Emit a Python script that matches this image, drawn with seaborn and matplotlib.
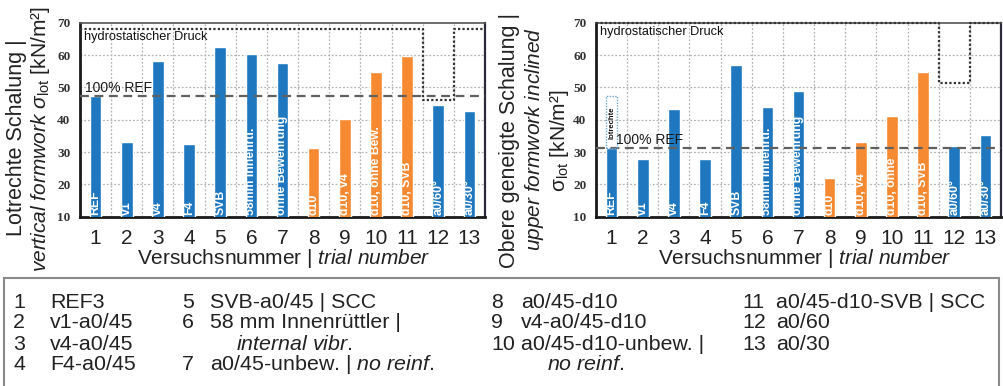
import matplotlib
matplotlib.use("Agg")
import matplotlib.pyplot as plt
import seaborn as sns
import pandas as pd
from matplotlib.patches import Rectangle
from matplotlib.ticker import MultipleLocator

# ---------------- data ----------------
trials = [str(i) for i in range(1, 14)]
groups = ["a0/45"] * 7 + ["d10"] * 4 + ["a0/45"] * 2
vertical = [47.4, 33.2, 58.1, 32.4, 62.6, 60.2, 57.4, 31.1, 40.3, 54.8, 59.7, 44.5, 42.7]
inclined = [31.3, 28.0, 43.2, 27.7, 56.9, 44.0, 49.0, 22.0, 33.1, 41.0, 54.8, 32.0, 35.2]
labels_vertical = ["REF", "v1", "v4", "F4", "SVB", "58mm Innenrtl.", "ohne Bewehrung",
                   "d10", "d10, v4", "d10, ohne Bew.", "d10, SVB", "a0/60°", "a0/30°"]
labels_inclined = ["REF", "v1", "v4", "F4", "SVB", "58mm Innenrtl.", "ohne Bewehrung",
                   "d10", "d10, v4", "d10, ohne", "d10, SVB", "a0/60°", "a0/30°"]
ref_vertical = 47.3
ref_inclined = 31.3
lotrechte_ref = 47.4          # vertical REF shown as dotted outline on inclined panel
hydro_vertical = [68.0, 46.0, 68.0]   # trials 1-11, 12, 13
hydro_inclined = [70.0, 51.3, 70.0]
y_ticks = [10, 20, 30, 40, 50, 60, 70]

legend_cols = [
    [("1", "REF3"), ("2", "v1-a0/45"), ("3", "v4-a0/45"), ("4", "F4-a0/45")],
    [("5", "SVB-a0/45 | SCC"), ("6", "58 mm Innenrüttler |"), ("", r"$\it{internal\ vibr.}$"),
     ("7", r"a0/45-unbew. | $\it{no\ reinf.}$")],
    [("8", "a0/45-d10"), ("9", "v4-a0/45-d10"), ("10", "a0/45-d10-unbew. |"), ("", r"$\it{no\ reinf.}$")],
    [("11", "a0/45-d10-SVB | SCC"), ("12", "a0/60"), ("13", "a0/30")],
]

palette = {"a0/45": "#1f78bf", "d10": "#f58a33"}

# ---------------- style ----------------
sns.set_style("white")
plt.rcParams["font.family"] = ["Liberation Sans", "DejaVu Sans"]
plt.rcParams["mathtext.fontset"] = "custom"
plt.rcParams["mathtext.rm"] = "Liberation Sans"
plt.rcParams["mathtext.it"] = "Liberation Sans:italic"
plt.rcParams["mathtext.bf"] = "Liberation Sans:bold"

W, H = 1004, 386
fig = plt.figure(figsize=(W / 100, H / 100), dpi=100)


def fx(x):
    return x / W


def fy(y):
    return 1 - y / H


def make_panel(left_px, values, labels, ref, hydro, ref_text_x):
    ax = fig.add_axes([fx(left_px), fy(216.7), 405 / W, 194 / H])
    df = pd.DataFrame({"trial": trials, "value": values, "group": groups})
    sns.barplot(data=df, x="trial", y="value", hue="group", palette=palette,
                dodge=False, width=0.375, legend=False, ax=ax, saturation=1,
                order=trials, zorder=3)
    ax.set_xlim(-0.5, 12.5)
    ax.set_ylim(10, 70)
    ax.set_yticks(y_ticks)
    ax.yaxis.set_minor_locator(MultipleLocator(2))
    ax.set_xticks([i + 0.5 for i in range(12)], minor=True)
    ax.set_xlabel("")
    ax.set_ylabel("")
    # grid
    for yv in y_ticks[1:-1]:
        ax.axhline(yv, color="#b4b4b4", lw=0.9, ls=(0, (1.5, 1.5)), zorder=1)
    for i in range(12):
        ax.axvline(i + 0.5, color="#b4b4b4", lw=0.9, ls=(0, (1.5, 1.5)), zorder=1)
    # ticks
    ax.tick_params(axis="x", which="major", length=0, labelsize=15, pad=9, labelcolor="#222222")
    ax.tick_params(axis="x", which="minor", length=4, width=1, direction="out", color="#333333")
    ax.tick_params(axis="y", which="major", length=4, width=1, direction="out", pad=3,
                   labelsize=9.5, labelcolor="#333333", color="#333333")
    ax.tick_params(axis="y", which="minor", length=2.5, width=0.8, direction="in", color="#555555")
    for lab in ax.get_yticklabels():
        lab.set_fontfamily("Liberation Serif")
        lab.set_fontweight("bold")
    # spines
    for s in ["left", "bottom"]:
        ax.spines[s].set_linewidth(2)
        ax.spines[s].set_color("#1a1a1a")
    ax.spines["top"].set_linewidth(1.2)
    ax.spines["top"].set_color("#555555")
    ax.spines["right"].set_linewidth(1.6)
    ax.spines["right"].set_color("#2a2a3a")
    # reference line
    ax.axhline(ref, color="#606060", lw=1.6, ls=(0, (4, 2.5)), zorder=4)
    ax.text(ref_text_x, ref + 0.3, "100% REF", fontsize=10, color="#1a1a1a",
            ha="left", va="bottom", zorder=6)
    # hydrostatic pressure line
    hx = [-0.5, 10.5, 10.5, 11.5, 11.5, 12.5]
    hy = [hydro[0], hydro[0], hydro[1], hydro[1], hydro[2], hydro[2]]
    ax.plot(hx, hy, color="#333333", lw=1.6, ls=(0, (1, 1)), zorder=5, clip_on=False)
    # bar labels
    for i, t in enumerate(labels):
        ax.text(i, 10.6, t, rotation=90, ha="center", va="bottom", color="white",
                fontsize=8.8, fontweight="bold", zorder=6)
    return ax


ax1 = make_panel(80, vertical, labels_vertical, ref_vertical, hydro_vertical, -0.35)
ax1.text(-0.38, 65.5, "hydrostatischer Druck", fontsize=9.2, color="#111111",
         ha="left", va="center", zorder=6)

ax2 = make_panel(596, inclined, labels_inclined, ref_inclined, hydro_inclined, 0.15)
ax2.text(-0.38, 67.0, "hydrostatischer Druck", fontsize=9.2, color="#111111",
         ha="left", va="center", zorder=6)
# dotted outline of vertical REF value on inclined panel
ax2.add_patch(Rectangle((-0.1875, ref_inclined), 0.375, lotrechte_ref - ref_inclined,
                        fill=False, ec="#6aa6d6", lw=1.0, ls=(0, (1, 1)), zorder=5))
ax2.text(0, ref_inclined + 2.6, "lotrechte", rotation=90, ha="center", va="bottom",
         fontsize=5.5, fontweight="bold", color="#111111", zorder=6)

# axis labels
lab_kw = dict(rotation=90, ha="center", va="center", color="#222222")
fig.text(fx(17), fy(138), "Lotrechte Schalung |", fontsize=15.5, **lab_kw)
fig.text(fx(41), fy(139), r"$\it{vertical\ formwork\ σ}_{\rm lot}$ [kN/m²]", fontsize=15, **lab_kw)
fig.text(fx(510), fy(140), "Obere geneigte Schalung |", fontsize=15.5, **lab_kw)
fig.text(fx(535), fy(139), r"$\it{upper\ formwork\ inclined}$", fontsize=15, **lab_kw)
fig.text(fx(560), fy(141), r"σ$_{\rm lot}$ [kN/m²]", fontsize=15, **lab_kw)

fig.text(fx(284), fy(258), r"Versuchsnummer | $\it{trial\ number}$", fontsize=15,
         ha="center", va="center", color="#222222")
fig.text(fx(805), fy(258), r"Versuchsnummer | $\it{trial\ number}$", fontsize=15,
         ha="center", va="center", color="#222222")

# legend box
fig.patches.append(Rectangle((fx(4), fy(392)), fx(995), (392 - 278) / H, transform=fig.transFigure,
                             fill=False, ec="#8a8a8a", lw=1.5))
col_num_x = [13, 182, 491, 742]
col_txt_x = [50, 210, 521, 776]
row_y = [302, 323, 344, 365]
for c, entries in enumerate(legend_cols):
    for r, (num, txt) in enumerate(entries):
        indent = 0
        if num == "":
            indent = 26
        if num:
            fig.text(fx(col_num_x[c]), fy(row_y[r]), num, fontsize=15.4, ha="left", va="center",
                     color="#222222")
        fig.text(fx(col_txt_x[c] + indent), fy(row_y[r]), txt, fontsize=15.4, ha="left",
                 va="center", color="#222222")

fig.savefig("out.png", dpi=100)
